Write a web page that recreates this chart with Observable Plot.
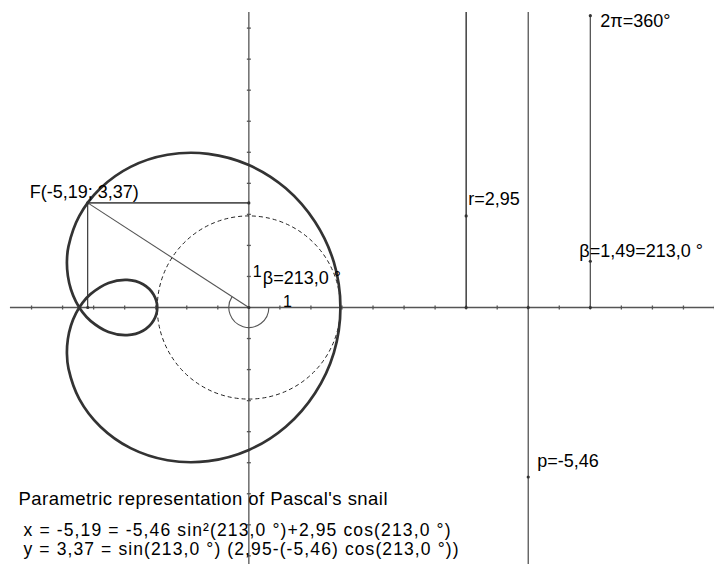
<!DOCTYPE html>
<html><head><meta charset="utf-8">
<script src="https://cdn.jsdelivr.net/npm/d3@7"></script>
<script src="https://cdn.jsdelivr.net/npm/@observablehq/plot@0.6"></script>
<style>
html,body{margin:0;padding:0;background:#fff;}
#chart svg{display:block;}
</style></head><body><div id="chart"></div>
<script>
// ---- data ----
const pValue = -5.46;
const rValue = 2.95;
const betaValue = 1.49;
const pointF = {x: -5.19, y: 3.37};

// points of the limaçon
const curveX = [2.95, 2.74, 2.13, 1.19, 0.00, -1.31, -2.62, -3.81, -4.78, -5.46, -5.81, -5.86, -5.83, -5.73, -5.57, -5.36, -5.10, -4.52, -3.92, -3.41, -3.07, -2.95,
                -3.07, -3.41, -3.92, -4.52, -5.10, -5.36, -5.57, -5.73, -5.83, -5.86, -5.81, -5.46, -4.78, -3.81, -2.62, -1.31, 0.00, 1.19, 2.13, 2.74];
const curveY = [0.00, 1.45, 2.76, 3.84, 4.59, 4.95, 4.92, 4.53, 3.84, 2.95, 1.97, 1.49, 1.02, 0.58, 0.19, -0.15, -0.43, -0.79, -0.89, -0.75, -0.42, 0.00,
                0.42, 0.75, 0.89, 0.79, 0.43, 0.15, -0.19, -0.58, -1.02, -1.49, -1.97, -2.95, -3.84, -4.53, -4.92, -4.95, -4.59, -3.84, -2.76, -1.45];

const sliderX = [7, 9, 11];
const xTicks = [-7, -6, -5, -4, -3, -2, -1, 1, 2, 3, 4, 5, 6, 7, 8, 9, 10, 11, 12, 13, 14, 15];
const yTicks = [-8, -7, -6, -5, -4, -3, -2, -1, 1, 2, 3, 4, 5, 6, 7, 8, 9];

const labelF = "F(-5,19; 3,37)";
const labelR = "r=2,95";
const labelP = "p=-5,46";
const labelBeta = "β=1,49=213,0 °";
const labelTwoPi = "2π=360°";
const labelAngle = "β=213,0 °";
const labelUnit = "1";
const titleText = "Parametric representation of Pascal's snail";
const formulaX = "x = -5,19 = -5,46 sin²(213,0 °)+2,95 cos(213,0 °)";
const formulaY = "y = 3,37 = sin(213,0 °) (2,95-(-5,46) cos(213,0 °))";

// ---- layout ----
const W = 714, H = 564;
const U = W / 23;              // pixels per unit
const yMin = -(H - 307) / U, yMax = 307 / U;
const axisLeft = -7.68, axisTop = 9.5;

const curve = curveX.map((x, i) => ({x, y: curveY[i]}));
const sliders = [
  {x: sliderX[0], y1: 0, y2: axisTop},
  {x: sliderX[1], y1: yMin, y2: axisTop},
  {x: sliderX[2], y1: 0, y2: 9.4}
];

const a0 = Math.atan2(pointF.y, pointF.x);
const arcSymbol = {draw(ctx, size) { const R = Math.sqrt(size / Math.PI); ctx.arc(0, 0, R, -a0, -2 * Math.PI, true); }};
const hTick = {draw(ctx) { ctx.moveTo(-2, 0); ctx.lineTo(2, 0); }};
const vTick = {draw(ctx) { ctx.moveTo(0, -2); ctx.lineTo(0, 2); }};

const font = "Liberation Sans, Arial, Helvetica, sans-serif";

const chart = Plot.plot({
  width: W, height: H, margin: 0,
  style: {fontFamily: font, background: "#fff", color: "#000"},
  x: {domain: [-8, 15], axis: null},
  y: {domain: [yMin, yMax], axis: null},
  r: {type: "linear", domain: [0, 1], range: [0, U]},
  color: {domain: [0, 1, 2], range: ["#222", "#555", "#555"]},
  marks: [
    // axes
    Plot.ruleY([0], {x1: axisLeft, x2: 15, stroke: "#555", strokeWidth: 1.3}),
    Plot.ruleX([0], {y1: yMin, y2: axisTop, stroke: "#555", strokeWidth: 1.3}),
    Plot.dot(xTicks, {x: d => d, y: 0, symbol: vTick, stroke: "#555", strokeWidth: 1.3}),
    Plot.dot(yTicks, {x: 0, y: d => d, symbol: hTick, stroke: "#555", strokeWidth: 1.3}),
    // sliders
    Plot.ruleX(sliders, {x: "x", y1: "y1", y2: "y2", stroke: (d, i) => i, strokeWidth: 1.3}),
    // dashed circle of radius r
    Plot.dot([{r: rValue}], {x: 0, y: 0, r: "r", fill: "none", stroke: "#222", strokeWidth: 1, strokeDasharray: "4,3"}),
    // angle arc
    Plot.dot([0], {x: 0, y: 0, r: 20, symbol: arcSymbol, fill: "none", stroke: "#555", strokeWidth: 1.1}),
    // construction lines of F
    Plot.link([pointF], {x1: "x", y1: "y", x2: 0, y2: "y", stroke: "#555", strokeWidth: 1.6}),
    Plot.link([pointF], {x1: "x", y1: "y", x2: "x", y2: 0, stroke: "#111", strokeWidth: 1}),
    Plot.link([pointF], {x1: "x", y1: "y", x2: 0, y2: 0, stroke: "#555", strokeWidth: 1.1}),
    // curve
    Plot.line(curve, {x: "x", y: "y", curve: "catmull-rom-closed", stroke: "#333", strokeWidth: 2.7}),
    // points
    Plot.dot([pointF, {x: pointF.x, y: 0}, {x: 0, y: pointF.y}, {x: 0, y: 0}], {x: "x", y: "y", r: 1.6, fill: "#333"}),
    Plot.dot([
      {x: sliderX[0], y: rValue}, {x: sliderX[1], y: pValue}, {x: sliderX[2], y: betaValue},
      {x: sliderX[0], y: 0}, {x: sliderX[1], y: 0}, {x: sliderX[2], y: 0}, {x: sliderX[2], y: 9.4}
    ], {x: "x", y: "y", r: 1.6, fill: "#333"}),
    // labels
    Plot.text([pointF], {x: "x", y: "y", text: () => labelF, textAnchor: "start", dx: -58, dy: -11, fontSize: 18}),
    Plot.text([rValue], {x: sliderX[0], y: d => d, text: () => labelR, textAnchor: "start", dx: 2, dy: -17, fontSize: 18}),
    Plot.text([pValue], {x: sliderX[1], y: d => d, text: () => labelP, textAnchor: "start", dx: 9, dy: -16, fontSize: 18}),
    Plot.text([betaValue], {x: sliderX[2], y: d => d, text: () => labelBeta, textAnchor: "start", dx: -11, dy: -10, fontSize: 18}),
    Plot.text([9.4], {x: sliderX[2], y: d => d, text: () => labelTwoPi, textAnchor: "start", dx: 10, dy: 6, fontSize: 18}),
    Plot.text([0], {x: 0, y: 0, text: () => labelAngle, textAnchor: "start", dx: 14, dy: -29, fontSize: 18}),
    Plot.text([1], {x: 0, y: d => d, text: () => labelUnit, textAnchor: "start", dx: 4, dy: -5, fontSize: 16}),
    Plot.text([1], {x: d => d, y: 0, text: () => labelUnit, textAnchor: "start", dx: 3, dy: -6, fontSize: 16}),
    // caption texts inside the frame
    Plot.text([titleText], {frameAnchor: "top-left", text: d => d, textAnchor: "start", dx: 18, dy: 491, fontSize: 18.5}),
    Plot.text([formulaX], {frameAnchor: "top-left", text: d => d, textAnchor: "start", dx: 23, dy: 523, fontSize: 17.5}),
    Plot.text([formulaY], {frameAnchor: "top-left", text: d => d, textAnchor: "start", dx: 23, dy: 542, fontSize: 17.5})
  ]
});
// stretch caption lines to the widths seen in the reference
const widths = new Map([[titleText, 369], [formulaX, 427], [formulaY, 435]]);
d3.select(chart).selectAll("text").each(function() {
  const w = widths.get(this.textContent);
  if (w) { this.setAttribute("textLength", w); this.setAttribute("lengthAdjust", "spacing"); }
});
document.getElementById("chart").appendChild(chart);
</script></body></html>
